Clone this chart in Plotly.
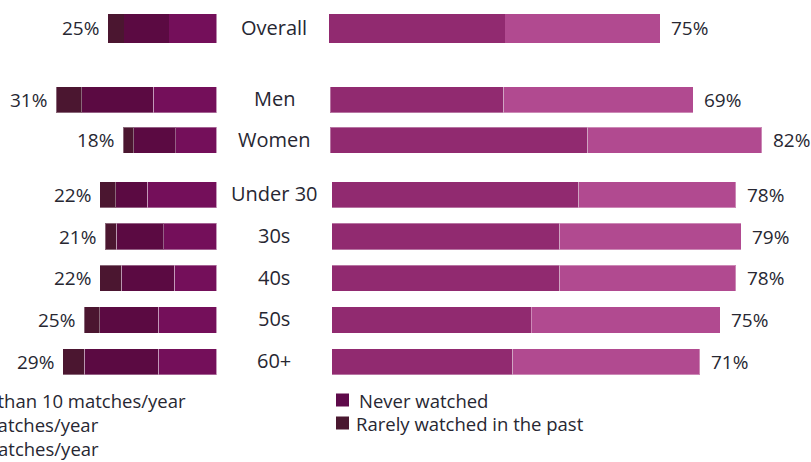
import plotly.graph_objects as go

# ---------------- data ----------------
overall_cats = ["Overall"]
gender_cats = ["Men", "Women"]
age_cats = ["Under 30", "30s", "40s", "50s", "60+"]

# watchers (left side), segments from the centre outward
seg_names = ["More than 10 matches/year", "5-10 matches/year", "1-4 matches/year"]
overall_watch = [[10.9], [10.4], [3.7]]
gender_watch = [[12.2, 7.9], [13.9, 8.1], [4.9, 2.0]]
age_watch = [[13.1, 10.0, 8.0, 11.0, 11.0],
             [5.9, 8.9, 10.0, 11.0, 14.0],
             [3.0, 2.1, 4.0, 3.0, 4.0]]
overall_watch_lbl = ["25%"]
gender_watch_lbl = ["31%", "18%"]
age_watch_lbl = ["22%", "21%", "22%", "25%", "29%"]

# non-watchers (right side)
non_names = ["Never watched", "Rarely watched in the past"]
overall_non = [[40.0], [35.0]]
gender_non = [[33.0, 49.0], [36.0, 33.0]]
age_non = [[47.7, 44.0, 44.0, 38.5, 35.0],
           [30.3, 35.0, 34.0, 36.5, 36.0]]
overall_non_lbl = ["75%"]
gender_non_lbl = ["69%", "82%"]
age_non_lbl = ["78%", "79%", "78%", "75%", "71%"]

legend_left = ["More than 10 matches/year", "5-10 matches/year", "1-4 matches/year"]
legend_right = ["Never watched", "Rarely watched in the past"]

# ---------------- style ----------------
W, H = 811, 462
watch_colors = ["#740f5a", "#5b0a42", "#4b1630"]
non_colors = ["#912a70", "#b14a90"]
legend_right_colors = ["#5e0a4a", "#4a1830"]
TXT = "#272732"
FONT = "Open Sans"


def px(x):
    return x / W


def py(y):
    return 1 - y / H


groups = [
    dict(cats=overall_cats, watch=overall_watch, wl=overall_watch_lbl, non=overall_non, nl=overall_non_lbl,
         ydom=(5.5, 51.5), lrange=50.1, rstart=329, rrange=109.3, line=0),
    dict(cats=gender_cats, watch=gender_watch, wl=gender_watch_lbl, non=gender_non, nl=gender_non_lbl,
         ydom=(79.5, 160.5), lrange=41.9, rstart=330, rrange=91.4, line=1),
    dict(cats=age_cats, watch=age_watch, wl=age_watch_lbl, non=age_non, nl=age_non_lbl,
         ydom=(174.0, 382.5), lrange=40.85, rstart=331.5, rrange=92.5, line=1),
]

fig = go.Figure()
layout = {}
annotations = []
shapes = []
LEFT_END = 216.5

for gi, g in enumerate(groups):
    lx = 2 * gi + 1
    rx = 2 * gi + 2
    yi = gi + 1
    lxname = "x" if lx == 1 else f"x{lx}"
    rxname = f"x{rx}"
    yname = "y" if yi == 1 else f"y{yi}"
    line = dict(color="rgba(255,255,255,0.35)", width=g["line"])

    for si, vals in enumerate(g["watch"]):
        fig.add_trace(go.Bar(y=g["cats"], x=vals, orientation="h", name=seg_names[si],
                             marker=dict(color=watch_colors[si], line=line),
                             xaxis=lxname, yaxis=yname, showlegend=False, hoverinfo="x+y"))
    for si, vals in enumerate(g["non"]):
        fig.add_trace(go.Bar(y=g["cats"], x=vals, orientation="h", name=non_names[si],
                             marker=dict(color=non_colors[si], line=line),
                             xaxis=rxname, yaxis=yname, showlegend=False, hoverinfo="x+y"))

    ydom = [py(g["ydom"][1]), py(g["ydom"][0])]
    layout["xaxis" if lx == 1 else f"xaxis{lx}"] = dict(
        domain=[0, px(LEFT_END)], range=[g["lrange"], 0], visible=False, anchor=yname, fixedrange=True)
    layout[f"xaxis{rx}"] = dict(
        domain=[px(g["rstart"]), 1], range=[0, g["rrange"]], visible=False, anchor=yname, fixedrange=True)
    layout["yaxis" if yi == 1 else f"yaxis{yi}"] = dict(
        domain=ydom, type="category", categoryorder="array", categoryarray=g["cats"],
        autorange="reversed", visible=False, anchor=lxname, fixedrange=True)

    for ci, cat in enumerate(g["cats"]):
        wtot = sum(v[ci] for v in g["watch"])
        ntot = sum(v[ci] for v in g["non"])
        annotations.append(dict(x=wtot, y=cat, xref=lxname, yref=yname, text=g["wl"][ci],
                                showarrow=False, xanchor="right", xshift=-7,
                                font=dict(size=19, color=TXT, family=FONT)))
        annotations.append(dict(x=ntot, y=cat, xref=rxname, yref=yname, text=g["nl"][ci],
                                showarrow=False, xanchor="left", xshift=9,
                                font=dict(size=19, color=TXT, family=FONT)))
        annotations.append(dict(x=px(274), y=cat, xref="paper", yref=yname, text=cat,
                                showarrow=False, xanchor="center", yshift=1,
                                font=dict(size=20, color=TXT, family=FONT)))

# left legend (cut off by the left edge)
left_leg_ends = [188, 101, 101]
left_leg_y = [400, 424, 448]
for t, xe, yy in zip(legend_left, left_leg_ends, left_leg_y):
    annotations.append(dict(x=px(xe), y=py(yy), xref="paper", yref="paper", text=t,
                            showarrow=False, xanchor="right", yanchor="middle",
                            font=dict(size=18.5, color=TXT, family=FONT)))

# right legend
right_leg_y = [400, 423]
right_text_x = [357, 354]
for t, c, yy, xt in zip(legend_right, legend_right_colors, right_leg_y, right_text_x):
    shapes.append(dict(type="rect", xref="paper", yref="paper",
                       x0=px(336), x1=px(349), y0=py(yy + 6.5), y1=py(yy - 6.5),
                       fillcolor=c, line=dict(width=0)))
    annotations.append(dict(x=px(xt), y=py(yy), xref="paper", yref="paper", text=t,
                            showarrow=False, xanchor="left", yanchor="middle",
                            font=dict(size=18.5, color=TXT, family=FONT)))

fig.update_layout(
    width=W, height=H,
    margin=dict(l=0, r=0, t=0, b=0),
    paper_bgcolor="white", plot_bgcolor="white",
    barmode="stack", bargap=0.37,
    showlegend=False,
    annotations=annotations, shapes=shapes,
    font=dict(family=FONT, color=TXT),
    **layout,
)

fig.write_html("out.html", config={"displayModeBar": False},
               post_script="document.body.style.margin='0';document.body.style.overflow='hidden';")
